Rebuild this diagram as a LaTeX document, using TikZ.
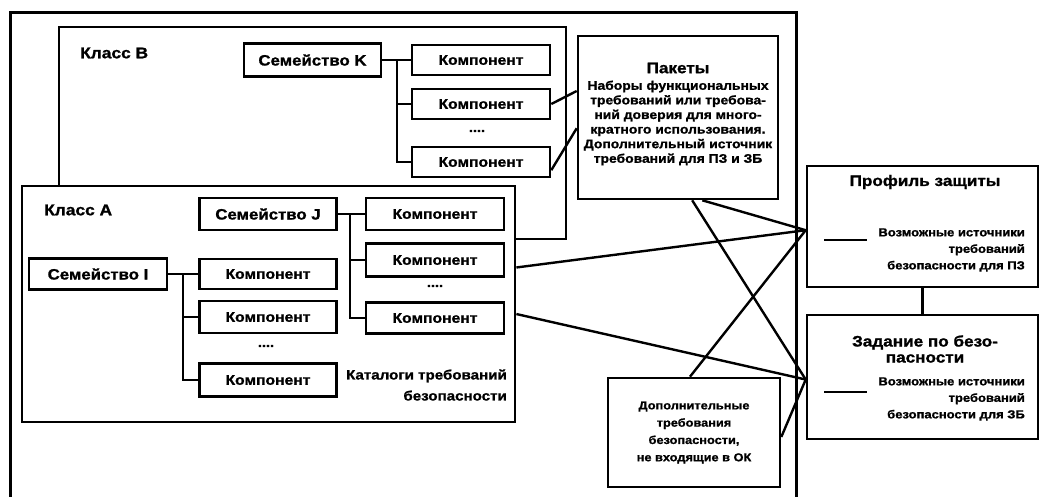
\documentclass[tikz,border=0pt]{standalone}
\usepackage{fontspec}
\setmainfont{Liberation Sans}[FakeStretch=1.12, BoldFeatures={FakeBold=1.2}]
\usetikzlibrary{calc}
\begin{document}
\begin{tikzpicture}[x=1pt,y=-1pt,
  every node/.style={font=\bfseries, inner sep=0pt},
  box/.style={draw, line width=2.6pt, fill=white, align=center},
  fambox/.style={box, minimum width=137pt, minimum height=32pt, font=\bfseries\fontsize{15}{17}\selectfont},
  compbox/.style={box, minimum width=138pt, minimum height=31pt, font=\bfseries\fontsize{14}{16}\selectfont},
  classbox/.style={draw, line width=2.8pt, fill=white},
  classlabel/.style={anchor=west, font=\bfseries\fontsize{15.5}{18}\selectfont},
  dots/.style={font=\bfseries\fontsize{13}{15}\selectfont},
  link/.style={line width=2.4pt},
  tree/.style={line width=2.2pt},
  dashline/.style={line width=1.6pt},
  small/.style={align=right, anchor=east, font=\bfseries\fontsize{11.6}{16.5}\selectfont},
  title/.style={font=\bfseries\fontsize{15.3}{17}\selectfont, align=center}
]
\useasboundingbox (0,0) rectangle (1040,496);
% outer frame (bottom edge lies outside the picture)
\draw[line width=3pt] (10,506) -- (10,12) -- (796,12) -- (796,506);

% Class B
\node[classbox, minimum width=507pt, minimum height=212pt] (classB) at (312.5,133) {};
\node[classlabel] (labB) at (80,53) {Класс B};
\node[fambox, minimum height=33pt] (famK) at (312.5,60) {Семейство K};
\node[compbox, minimum height=30pt] (cB1) at (481,60) {Компонент};
\node[compbox, minimum height=30pt] (cB2) at (481,104) {Компонент};
\node[compbox, minimum height=30pt] (cB3) at (481,162) {Компонент};
\node[dots] (dB) at (477,131) {....};
\coordinate (jK) at (397,60);
\draw[tree] (famK.east) -- (cB1.west);
\draw[tree] (jK) |- (cB2.west);
\draw[tree] (jK) |- (cB3.west);

% Class A
\node[classbox, minimum width=493pt, minimum height=236pt] (classA) at (268.5,304) {};
\node[classlabel] (labA) at (44,210) {Класс A};
\node[fambox] (famJ) at (268,214) {Семейство J};
\node[compbox, minimum height=32pt] (cJ1) at (435,214) {Компонент};
\node[compbox, minimum height=33pt] (cJ2) at (435,260) {Компонент};
\node[compbox] (cJ3) at (435,318) {Компонент};
\node[dots] (dJ) at (435,286) {....};
\coordinate (jJ) at (350,214);
\draw[tree] (famJ.east) -- (cJ1.west);
\draw[tree] (jJ) |- (cJ2.west);
\draw[tree] (jJ) |- (cJ3.west);

\node[fambox, minimum width=138pt, minimum height=31pt] (famI) at (98,274) {Семейство I};
\node[compbox, minimum width=137pt, minimum height=30pt] (cI1) at (268,274) {Компонент};
\node[compbox, minimum width=137pt, minimum height=32pt] (cI2) at (268,317) {Компонент};
\node[compbox, minimum width=137pt, minimum height=33pt] (cI3) at (268,380) {Компонент};
\node[dots] (dI) at (266,346) {....};
\coordinate (jI) at (183,274);
\draw[tree] (famI.east) -- (cI1.west);
\draw[tree] (jI) |- (cI2.west);
\draw[tree] (jI) |- (cI3.west);

\node[align=right, anchor=east, font=\bfseries\fontsize{13.5}{21}\selectfont] (cat) at (507,385) {Каталоги требований\\безопасности};

% Packages
\node[box, minimum width=200pt, minimum height=163pt] (pak) at (678,117.5) {};
\node[title] (pakT) at (678,68) {Пакеты};
\node[align=center, font=\bfseries\fontsize{12.4}{14.6}\selectfont] (pakB) at (678,123) {Наборы функциональных\\требований или требова-\\ний доверия для много-\\кратного использования.\\Дополнительный источник\\требований для ПЗ и ЗБ};

% Protection profile
\node[box, minimum width=231pt, minimum height=121pt] (pz) at (922.5,226.5) {};
\node[title] (pzT) at (925,182) {Профиль защиты};
\coordinate (pzD1) at (824,240);
\coordinate (pzD2) at (867,240);
\draw[dashline] (pzD1) -- (pzD2);
\node[small] (pzB) at (1025,250) {Возможные источники\\требований\\безопасности для ПЗ};

% Security target
\node[box, minimum width=231pt, minimum height=124pt] (zb) at (922.5,377) {};
\node[title, font=\bfseries\fontsize{15.3}{16}\selectfont] (zbT) at (925,349) {Задание по безо-\\пасности};
\coordinate (zbD1) at (824,392);
\coordinate (zbD2) at (867,392);
\draw[dashline] (zbD1) -- (zbD2);
\node[small] (zbB) at (1025,399) {Возможные источники\\требований\\безопасности для ЗБ};

\draw[line width=2.2pt] (pz.south) -- (zb.north);

% Additional requirements
\node[box, minimum width=172pt, minimum height=109pt, font=\bfseries\fontsize{11.4}{17.3}\selectfont] (dop) at (694,432.5) {Дополнительные\\требования\\безопасности,\\не входящие в ОК};

% connectors
\coordinate (pzin) at ($(pz.north west)!0.53!(pz.south west)$);
\coordinate (zbin) at ($(zb.north west)!0.52!(zb.south west)$);
\draw[link] (cB2.east) -- ($(pak.north west)!0.34!(pak.south west)$);
\draw[link] ($(cB3.north east)!0.75!(cB3.south east)$) -- ($(pak.north west)!0.565!(pak.south west)$);
\draw[link] ($(classA.north east)!0.347!(classA.south east)$) -- (pzin);
\draw[link] ($(classA.north east)!0.542!(classA.south east)$) -- (zbin);
\draw[link] ($(pak.south west)!0.57!(pak.south east)$) -- (zbin);
\draw[link] ($(pak.south west)!0.62!(pak.south east)$) -- (pzin);
\draw[link] ($(dop.north west)!0.477!(dop.north east)$) -- (pzin);
\draw[link] ($(dop.north east)!0.54!(dop.south east)$) -- (zbin);
\end{tikzpicture}
\end{document}
